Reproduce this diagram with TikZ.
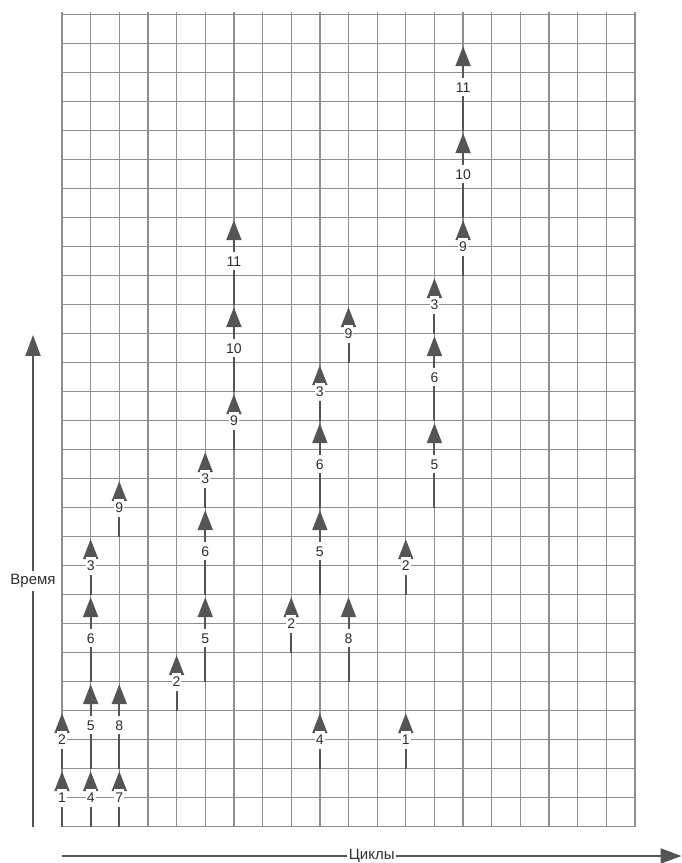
\documentclass[tikz,border=0pt]{standalone}
\usepackage{fontspec}
\setmainfont{Liberation Sans}
\usetikzlibrary{arrows.meta,calc}
\definecolor{gridc}{HTML}{8E8E8E}
\definecolor{arrc}{HTML}{555555}
\definecolor{txtc}{HTML}{2E2E2E}
\tikzset{
  gridline/.style={draw=gridc, line width=1.3pt},
  op/.style={draw=arrc, line width=2pt, -{Triangle[length=20pt,width=15pt]}, shorten >=2.5pt},
  lab/.style={fill=white, text=txtc, font=\fontsize{14}{16}\selectfont, inner xsep=1pt, inner ysep=4pt, text height=10pt, text depth=0pt},
  axis/.style={draw=arrc, line width=2pt, -{Triangle[length=21pt,width=15pt]}},
  axlab/.style={fill=white, text=txtc, font=\fontsize{15}{17}\selectfont, inner xsep=1.5pt, inner ysep=3pt},
}
\newcommand\oparrow[5]{%
  \coordinate (#1s) at (#2,#3);
  \coordinate (#1e) at (#2,#4);
  \draw[op] (#1s) -- (#1e);
  \node[lab] (#1l) at (#2,{(#3+#4)/2}) {#5};
}
\begin{document}
\begin{tikzpicture}[x=28.65pt,y=29pt]
\useasboundingbox (-62pt,-36.3pt) rectangle (620pt,826.7pt);
% grid
\foreach \i in {0,...,20} \draw[gridline] (\i,0) -- (\i,28.08);
\foreach \j in {0,...,28} \draw[gridline] (0,\j) -- (20,\j);
% axes
\coordinate (vb) at (-29pt,0pt);
\coordinate (vt) at (-29pt,491.7pt);
\draw[axis] (vb) -- (vt);
\node[axlab] (vlab) at ($(vb)!0.5!(vt)$) {Время};
\coordinate (hb) at (0pt,-29.3pt);
\coordinate (ht) at (619.5pt,-29.3pt);
\draw[axis] (hb) -- (ht);
\node[axlab] (hlab) at ($(hb)!0.5!(ht)$) {Циклы};
% operations
\oparrow{aA}{0}{0}{2}{1}
\oparrow{aB}{0}{2}{4}{2}
\oparrow{bA}{1}{0}{2}{4}
\oparrow{bB}{1}{2}{5}{5}
\oparrow{bC}{1}{5}{8}{6}
\oparrow{bD}{1}{8}{10}{3}
\oparrow{cA}{2}{0}{2}{7}
\oparrow{cB}{2}{2}{5}{8}
\oparrow{cC}{2}{10}{12}{9}
\oparrow{dA}{4}{4}{6}{2}
\oparrow{eA}{5}{5}{8}{5}
\oparrow{eB}{5}{8}{11}{6}
\oparrow{eC}{5}{11}{13}{3}
\oparrow{fA}{6}{13}{15}{9}
\oparrow{fB}{6}{15}{18}{10}
\oparrow{fC}{6}{18}{21}{11}
\oparrow{gA}{8}{6}{8}{2}
\oparrow{hA}{9}{2}{4}{4}
\oparrow{hB}{9}{8}{11}{5}
\oparrow{hC}{9}{11}{14}{6}
\oparrow{hD}{9}{14}{16}{3}
\oparrow{iA}{10}{5}{8}{8}
\oparrow{iB}{10}{16}{18}{9}
\oparrow{kA}{12}{2}{4}{1}
\oparrow{kB}{12}{8}{10}{2}
\oparrow{lA}{13}{11}{14}{5}
\oparrow{lB}{13}{14}{17}{6}
\oparrow{lC}{13}{17}{19}{3}
\oparrow{mA}{14}{19}{21}{9}
\oparrow{mB}{14}{21}{24}{10}
\oparrow{mC}{14}{24}{27}{11}
\end{tikzpicture}
\end{document}
